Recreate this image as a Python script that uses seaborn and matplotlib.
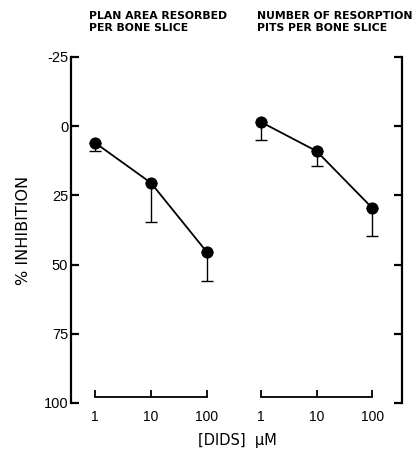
import matplotlib
matplotlib.use("Agg")
import matplotlib.pyplot as plt
import seaborn as sns
import pandas as pd
import numpy as np

sns.set_style("ticks", {"axes.edgecolor": "black", "text.color": "black",
                        "xtick.color": "black", "ytick.color": "black",
                        "axes.labelcolor": "black"})
plt.rcParams['font.family'] = ['Liberation Sans', 'DejaVu Sans']

doses = [1, 10, 100]
area_mean = [6.0, 20.5, 45.5]
area_err = [3.0, 14.0, 10.5]
pits_mean = [-1.5, 9.0, 29.5]
pits_err = [6.5, 5.5, 10.0]
yticks = [-25, 0, 25, 50, 75, 100]
ytick_labels = ["-25", "0", "25", "50", "75", "100"]
titles = ["PLAN AREA RESORBED\nPER BONE SLICE", "NUMBER OF RESORPTION\nPITS PER BONE SLICE"]

fig = plt.figure(figsize=(4.16, 4.57), dpi=100)
W, H = 416, 457
top_px, bot_px = 57, 403
axL = fig.add_axes([71 / W, 1 - bot_px / H, (237 - 71) / W, (bot_px - top_px) / H])
axR = fig.add_axes([237 / W, 1 - bot_px / H, (402 - 237) / W, (bot_px - top_px) / H])

for ax, means, errs, title, tx in [(axL, area_mean, area_err, titles[0], 89),
                                   (axR, pits_mean, pits_err, titles[1], 257)]:
    df = pd.DataFrame({"dose": doses, "inh": means})
    ax.errorbar(doses, means, yerr=[np.zeros(len(errs)), errs], fmt='none',
                ecolor='black', elinewidth=1.0, capsize=4, capthick=1.0, zorder=2)
    sns.lineplot(data=df, x="dose", y="inh", ax=ax, color='black', linewidth=1.3,
                 marker='o', markersize=8, markeredgecolor='black',
                 markerfacecolor='black', zorder=3)
    ax.set_xscale('log')
    ax.set_xlim(0.37, 345)
    ax.set_ylim(100, -25)
    ax.set_xlabel("")
    ax.set_ylabel("")
    ax.spines['top'].set_visible(False)
    ax.spines['bottom'].set_bounds(1, 100)
    ax.spines['bottom'].set_position(('data', 98))
    ax.spines['bottom'].set_linewidth(1.3)
    ax.set_xticks(doses)
    ax.set_xticklabels(["1", "10", "100"])
    ax.xaxis.set_minor_locator(matplotlib.ticker.NullLocator())
    ax.tick_params(axis='x', direction='in', length=5, width=1.3, labelsize=10, pad=9)
    fig.text(tx / W, 1 - 11 / H, title, ha='left', va='top', fontsize=7.8,
             fontweight='bold', linespacing=1.2, family=['DejaVu Sans'])

axL.spines['right'].set_visible(False)
axL.spines['left'].set_linewidth(1.6)
axL.set_yticks(yticks)
axL.set_yticklabels(ytick_labels)
axL.tick_params(axis='y', direction='in', length=6, width=1.6, labelsize=10.5, pad=2)
axL.set_ylabel("% INHIBITION", fontsize=11.5, labelpad=9, family=['DejaVu Sans'])

axR.spines['left'].set_visible(False)
axR.spines['right'].set_linewidth(1.6)
axR.yaxis.tick_right()
axR.set_yticks(yticks)
axR.set_yticklabels([])
axR.tick_params(axis='y', direction='in', length=6, width=1.6)

fig.text(237 / W, 1 - 440 / H, "[DIDS]  \u03bcM", ha='center', va='center', fontsize=10.5,
         family=['DejaVu Sans'])

fig.savefig("out.png", dpi=100)
